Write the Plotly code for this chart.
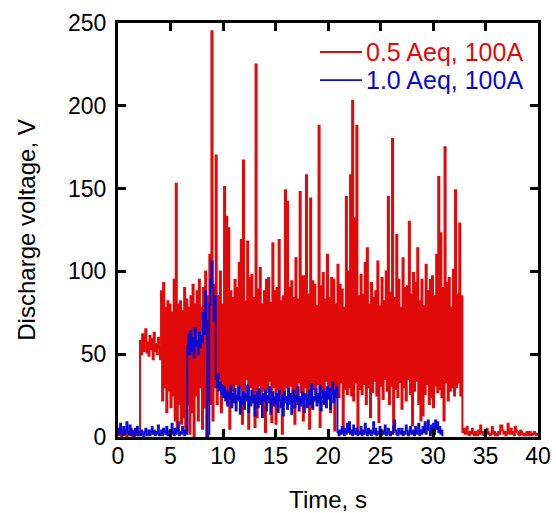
import numpy as np
import plotly.graph_objects as go

DT = 0.1  # sampling step, s

# Discharge voltage (V), 0.5 Aeq, 100 A — one value per 0.1 s from t = 0 s
red_v = [
    2, 1, 3, 0, 2, 4, 1, 2, 0, 3,
    1, 2, 5, 1, 0, 2, 3, 1, 2, 1,
    2, 58, 50, 62, 52, 60, 65, 51, 57, 49,
    61, 53, 59, 47, 63, 52, 56, 50, 60, 54,
    47, 88, 22, 93, 30, 78, 15, 82, 28, 80,
    18, 75, 25, 95, 10, 153, 5, 80, 20, 82,
    8, 76, 12, 90, 3, 83, 20, 78, 2, 85,
    15, 92, 0, 80, 25, 88, 10, 95, 30, 78,
    5, 90, 18, 100, 0, 85, 22, 110, 20, 245,
    10, 92, 30, 170, 20, 85, 35, 100, 15, 80,
    25, 151, 30, 133, 20, 126, 5, 88, 28, 84,
    22, 95, 32, 90, 25, 105, 30, 119, 8, 167,
    27, 82, 35, 118, 5, 96, 30, 98, 22, 84,
    6, 225, 12, 89, 31, 102, 20, 80, 28, 88,
    3, 95, 27, 96, 34, 81, 9, 117, 30, 88,
    8, 90, 29, 119, 26, 82, 2, 85, 21, 149,
    30, 142, 25, 90, 31, 94, 22, 84, 8, 108,
    20, 83, 33, 148, 27, 97, 10, 97, 30, 158,
    24, 86, 5, 144, 18, 94, 29, 92, 26, 79,
    32, 188, 6, 91, 27, 99, 21, 83, 34, 110,
    28, 84, 15, 96, 31, 95, 4, 80, 30, 104,
    24, 92, 33, 89, 4, 78, 29, 145, 26, 100,
    30, 158, 25, 203, 22, 132, 33, 188, 4, 85,
    29, 98, 26, 86, 32, 105, 20, 114, 30, 80,
    12, 93, 27, 84, 34, 88, 25, 106, 9, 79,
    31, 96, 23, 82, 35, 100, 28, 145, 20, 87,
    31, 180, 3, 84, 29, 122, 24, 95, 33, 78,
    17, 108, 30, 90, 22, 91, 35, 130, 26, 86,
    7, 99, 28, 93, 34, 114, 20, 82, 10, 95,
    13, 79, 26, 104, 32, 88, 20, 95, 24, 97,
    18, 85, 31, 110, 27, 157, 29, 123, 24, 90,
    10, 175, 33, 93, 22, 96, 28, 78, 30, 101,
    25, 149, 30, 86, 33, 129, 25, 85, 3, 5,
    2, 3, 6, 2, 1, 3, 2, 5, 2, 1,
    3, 2, 1, 4, 2, 7, 3, 2, 1, 3,
    2, 5, 3, 2, 1, 2, 6, 2, 3, 1,
    2, 1, 3, 2, 7, 7, 4, 2, 3, 1,
    2, 8, 3, 2, 5, 2, 3, 1, 6, 4,
    3, 2, 1, 4, 3, 2, 1, 2, 1, 3,
    2, 1, 3, 2, 1, 2, 3, 2, 1, 2,
    2,
]

# Discharge voltage (V), 1.0 Aeq, 100 A — one value per 0.1 s from t = 0 s
blue_v = [
    5, 2, 8, 3, 1, 6, 2, 4, 9, 3,
    2, 7, 1, 4, 3, 0, 5, 2, 6, 1,
    3, 1, 4, 2, 0, 3, 5, 1, 2, 4,
    1, 3, 6, 2, 4, 1, 3, 2, 7, 1,
    2, 4, 1, 5, 3, 2, 6, 1, 3, 4,
    2, 8, 3, 1, 5, 2, 4, 9, 1, 3,
    2, 6, 3, 1, 4, 2, 55, 62, 50, 64,
    52, 60, 48, 66, 55, 58, 50, 63, 54, 61,
    57, 75, 62, 88, 70, 0, 2, 80, 95, 106,
    90, 70, 85, 35, 30, 38, 28, 33, 26, 31,
    24, 30, 22, 28, 19, 27, 23, 31, 18, 26,
    21, 29, 16, 25, 22, 30, 14, 24, 20, 27,
    17, 26, 22, 31, 15, 24, 19, 28, 21, 25,
    13, 23, 27, 18, 29, 20, 24, 12, 26, 22,
    28, 16, 25, 21, 30, 14, 23, 27, 19, 24,
    20, 26, 15, 28, 22, 18, 25, 13, 27, 21,
    24, 17, 29, 20, 26, 14, 23, 28, 18, 25,
    22, 30, 16, 24, 19, 27, 21, 15, 26, 23,
    18, 25, 28, 20, 32, 17, 24, 22, 29, 19,
    26, 21, 31, 16, 24, 28, 20, 27, 18, 30,
    23, 29, 17, 26, 33, 21, 28, 24, 30, 3,
    1, 4, 2, 6, 3, 1, 5, 2, 8, 3,
    9, 2, 4, 1, 7, 3, 2, 5, 1, 3,
    2, 6, 1, 4, 2, 8, 3, 1, 5, 2,
    4, 1, 3, 9, 2, 5, 1, 3, 2, 6,
    1, 4, 2, 3, 7, 1, 2, 5, 3, 1,
    3, 2, 6, 10, 4, 2, 1, 5, 3, 2,
    5, 1, 3, 2, 7, 4, 1, 2, 6, 3,
    2, 4, 1, 6, 3, 2, 8, 1, 4, 2,
    6, 3, 9, 2, 5, 10, 4, 1, 7, 3,
    8, 2, 10, 5, 9, 3, 6, 2, 4, 1,
    1,
]

series_names = ["0.5 Aeq, 100A", "1.0 Aeq, 100A"]
x_ticks = [0, 5, 10, 15, 20, 25, 30, 35, 40]
y_ticks = [0, 50, 100, 150, 200, 250]

RED = "#e00a0a"
BLUE = "#0a0ad2"
FONT = "Liberation Sans, Arial, sans-serif"

t_red = np.round(np.arange(len(red_v)) * DT, 2)
t_blue = np.round(np.arange(len(blue_v)) * DT, 2)

fig = go.Figure()
fig.add_trace(go.Scatter(x=t_red, y=red_v, mode="lines", name=series_names[0],
                         line=dict(color=RED, width=2.0, shape="hv")))
fig.add_trace(go.Scatter(x=t_blue, y=blue_v, mode="lines", name=series_names[1],
                         line=dict(color=BLUE, width=1.9, shape="hv")))

axis_common = dict(
    showline=True, linecolor="black", linewidth=3, mirror="ticks",
    ticks="inside", ticklen=8, tickwidth=3, tickcolor="black",
    showgrid=False, zeroline=False, automargin=False,
    tickfont=dict(family=FONT, size=23, color="black"),
)

fig.update_xaxes(range=[0, 40], tickvals=x_ticks,
                 title=dict(text="Time, s", font=dict(family=FONT, size=24, color="black"), standoff=27),
                 ticklabelstandoff=-4, **axis_common)
fig.update_yaxes(range=[0, 250], tickvals=y_ticks,
                 title=dict(text="Discharge voltage, V", font=dict(family=FONT, size=24, color="black"), standoff=26),
                 ticklabelstandoff=4, **axis_common)

# legend drawn as line samples + coloured text
legend_rows = [(0.930, RED, series_names[0]), (0.862, BLUE, series_names[1])]
for yy, col, name in legend_rows:
    fig.add_shape(type="line", xref="paper", yref="paper", x0=0.481, x1=0.581, y0=yy, y1=yy,
                  line=dict(color=col, width=1.8))
    fig.add_annotation(xref="paper", yref="paper", x=0.588, y=yy, xanchor="left", yanchor="middle",
                       text=name, showarrow=False, borderpad=0,
                       font=dict(family=FONT, size=25, color=col))

fig.update_layout(
    width=556, height=513,
    margin=dict(l=118, r=18, t=23, b=76),
    paper_bgcolor="white", plot_bgcolor="white",
    showlegend=False,
)

fig.write_html("out.html", config={"displayModeBar": False},
               post_script="document.body.style.margin='0px';")
